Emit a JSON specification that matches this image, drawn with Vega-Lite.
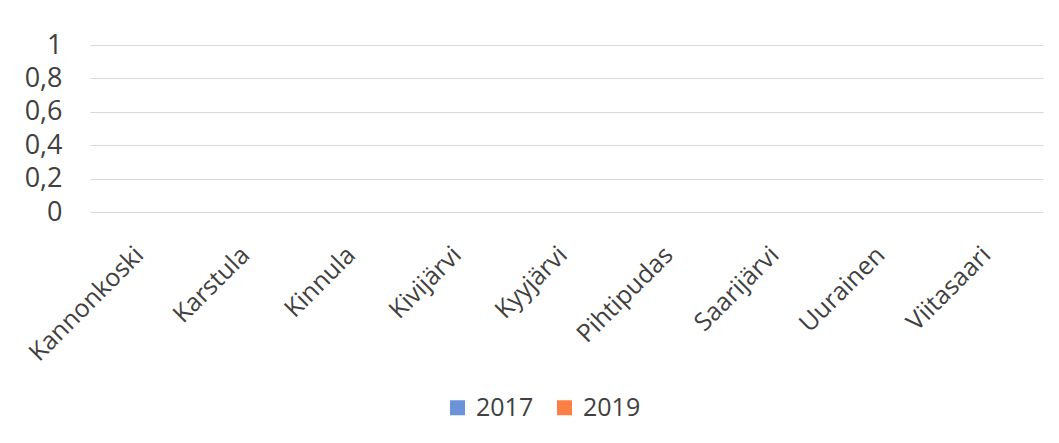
{
  "$schema": "https://vega.github.io/schema/vega-lite/v6.json",
  "autosize": {"type": "none"},
  "width": 953,
  "height": 167,
  "padding": {"left": 90, "top": 45, "right": 16, "bottom": 231},
  "background": "white",
  "data": {
    "values": [
      {"kunta": "Kannonkoski", "vuosi": "2017", "arvo": 0},
      {"kunta": "Kannonkoski", "vuosi": "2019", "arvo": 0},
      {"kunta": "Karstula", "vuosi": "2017", "arvo": 0},
      {"kunta": "Karstula", "vuosi": "2019", "arvo": 0},
      {"kunta": "Kinnula", "vuosi": "2017", "arvo": 0},
      {"kunta": "Kinnula", "vuosi": "2019", "arvo": 0},
      {"kunta": "Kivijärvi", "vuosi": "2017", "arvo": 0},
      {"kunta": "Kivijärvi", "vuosi": "2019", "arvo": 0},
      {"kunta": "Kyyjärvi", "vuosi": "2017", "arvo": 0},
      {"kunta": "Kyyjärvi", "vuosi": "2019", "arvo": 0},
      {"kunta": "Pihtipudas", "vuosi": "2017", "arvo": 0},
      {"kunta": "Pihtipudas", "vuosi": "2019", "arvo": 0},
      {"kunta": "Saarijärvi", "vuosi": "2017", "arvo": 0},
      {"kunta": "Saarijärvi", "vuosi": "2019", "arvo": 0},
      {"kunta": "Uurainen", "vuosi": "2017", "arvo": 0},
      {"kunta": "Uurainen", "vuosi": "2019", "arvo": 0},
      {"kunta": "Viitasaari", "vuosi": "2017", "arvo": 0},
      {"kunta": "Viitasaari", "vuosi": "2019", "arvo": 0}
    ]
  },
  "mark": {"type": "bar"},
  "encoding": {
    "x": {
      "field": "kunta",
      "type": "nominal",
      "sort": null,
      "title": null,
      "scale": {"paddingInner": 0.3, "paddingOuter": 0.15},
      "axis": {
        "labelAngle": -45,
        "domain": false,
        "ticks": false,
        "labelPadding": 30,
        "labelOffset": -12,
        "labelFont": "Open Sans",
        "labelFontSize": 25,
        "labelColor": "#404040"
      }
    },
    "xOffset": {"field": "vuosi", "type": "nominal"},
    "y": {
      "field": "arvo",
      "type": "quantitative",
      "title": null,
      "scale": {"domain": [0, 1], "nice": false},
      "axis": {
        "values": [0, 0.2, 0.4, 0.6, 0.8, 1],
        "labelExpr": "replace(format(datum.value, '~g'), '.', ',')",
        "domain": false,
        "ticks": false,
        "labelPadding": 28,
        "labelFont": "Open Sans",
        "labelFontSize": 27,
        "labelColor": "#404040",
        "grid": true,
        "gridColor": "#d9d9d9",
        "gridWidth": 1
      }
    },
    "color": {
      "field": "vuosi",
      "type": "nominal",
      "scale": {"domain": ["2017", "2019"], "range": ["#6a93d8", "#fb7e44"]},
      "legend": {
        "title": null,
        "orient": "none",
        "direction": "horizontal",
        "legendX": 355,
        "legendY": 350,
        "symbolType": "square",
        "symbolSize": 225,
        "symbolStrokeWidth": 0,
        "labelFont": "Open Sans",
        "labelFontSize": 25,
        "labelColor": "#404040",
        "labelOffset": 6,
        "columnPadding": 18
      }
    }
  },
  "config": {"view": {"stroke": null}}
}
